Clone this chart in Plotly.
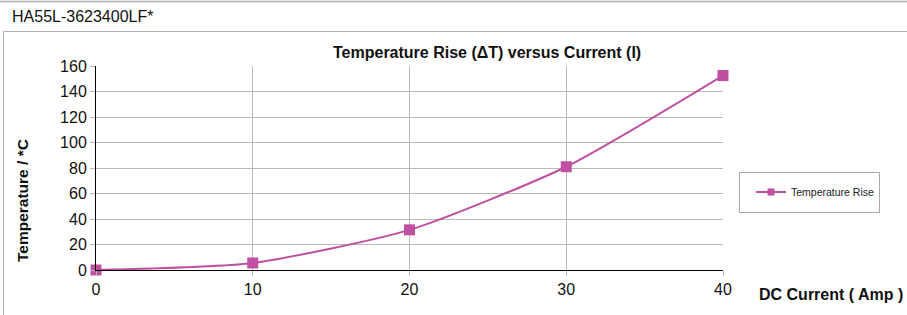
import plotly.graph_objects as go

current = [0, 10, 20, 30, 40]
temp_rise = [0, 5.5, 31.5, 81, 152.5]
series_name = "Temperature Rise"
x_ticks = [0, 10, 20, 30, 40]
y_ticks = [0, 20, 40, 60, 80, 100, 120, 140, 160]

W, H = 907, 315
# plot-area edges in page pixels
L, R, T, B = 96, 723, 66, 270
color = "#BF4FA0"
FONT = "Liberation Sans, Arial, sans-serif"

def px(x):
    return (x - L) / (R - L)

def py(y):
    return (B - y) / (B - T)

fig = go.Figure()
fig.add_trace(go.Scatter(
    x=current, y=temp_rise, name=series_name, mode="lines+markers",
    line=dict(color=color, width=2, shape="spline", smoothing=0.6),
    marker=dict(symbol="square", size=11, color=color),
    cliponaxis=False, showlegend=False,
))
# legend entry with the smaller legend marker
fig.add_trace(go.Scatter(
    x=[None], y=[None], name=series_name, mode="lines+markers",
    line=dict(color=color, width=2),
    marker=dict(symbol="square", size=7, color=color),
    showlegend=True,
))

fig.update_layout(
    width=W, height=H,
    margin=dict(l=L, r=W - R, t=T, b=H - B, pad=0),
    paper_bgcolor="white", plot_bgcolor="white",
    font=dict(family=FONT, size=16, color="#111"),
    showlegend=True,
    legend=dict(x=px(751), y=py(192), xanchor="left", yanchor="middle",
                borderwidth=0, bgcolor="rgba(0,0,0,0)",
                font=dict(size=10.5, family=FONT, color="#222"),
                tracegroupgap=0),
    xaxis=dict(range=[0, 40], tickvals=x_ticks, showgrid=True, gridcolor="#B8B8B8",
               gridwidth=1, zeroline=False, showline=True, linecolor="black", linewidth=1,
               ticks="outside", ticklen=5, tickcolor="#B8B8B8",
               tickfont=dict(size=16, family=FONT, color="#111")),
    yaxis=dict(range=[0, 160], tickvals=y_ticks, showgrid=True, gridcolor="#B8B8B8",
               gridwidth=1, zeroline=False, showline=True, linecolor="black", linewidth=1,
               ticks="outside", ticklen=5, tickcolor="#B8B8B8",
               tickfont=dict(size=16, family=FONT, color="#111")),
    shapes=[
        # thin separator line at the very top
        dict(type="line", xref="paper", yref="paper", x0=px(0), x1=px(W), y0=py(1.5), y1=py(1.5),
             line=dict(color="#B0B0B0", width=1.5)),
        # frame: top and left edges (others run off the page)
        dict(type="line", xref="paper", yref="paper", x0=px(3.5), x1=px(W), y0=py(31.5), y1=py(31.5),
             line=dict(color="#B0B0B0", width=1)),
        dict(type="line", xref="paper", yref="paper", x0=px(3.5), x1=px(3.5), y0=py(31.5), y1=py(H),
             line=dict(color="#B0B0B0", width=1)),
        # legend box
        dict(type="rect", xref="paper", yref="paper", x0=px(739.5), x1=px(879.5), y0=py(172.5), y1=py(212.5),
             line=dict(color="#A8A8A8", width=1), fillcolor="white", layer="below"),
    ],
    annotations=[
        dict(text="HA55L-3623400LF*", xref="paper", yref="paper", x=px(10), y=py(17),
             xanchor="left", yanchor="middle", showarrow=False,
             font=dict(size=16, family=FONT, color="#111")),
        dict(text="<b>Temperature Rise (ΔT) versus Current (I)</b>", xref="paper", yref="paper",
             x=px(487), y=py(52), xanchor="center", yanchor="middle", showarrow=False,
             font=dict(size=16, family=FONT, color="#111")),
        dict(text="<b>DC Current ( Amp )</b>", xref="paper", yref="paper",
             x=px(757), y=py(294), xanchor="left", yanchor="middle", showarrow=False,
             font=dict(size=16, family=FONT, color="#111")),
        dict(text="<b>Temperature / *C</b>", xref="paper", yref="paper",
             x=px(22), y=py(201), xanchor="center", yanchor="middle", showarrow=False,
             textangle=-90, font=dict(size=15.5, family=FONT, color="#111")),
    ],
)

fig.write_html("out.html", config={"displayModeBar": False},
               post_script="document.body.style.margin='0';document.body.style.overflow='hidden';")
